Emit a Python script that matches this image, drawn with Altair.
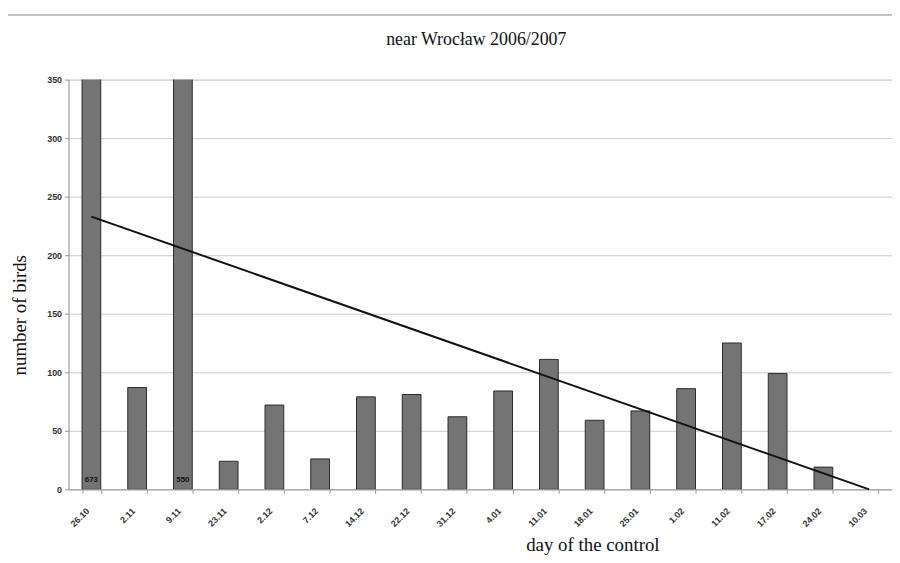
import altair as alt
import pandas as pd

dates = ["26.10", "2.11", "9.11", "23.11", "2.12", "7.12", "14.12", "22.12", "31.12",
         "4.01", "11.01", "18.01", "25.01", "1.02", "11.02", "17.02", "24.02", "10.03"]
birds = [673, 87, 550, 24, 72, 26, 79, 81, 62, 84, 111, 59, 67, 86, 125, 99, 19, 0]
trend_dates = ["26.10", "10.03"]
trend_values = [233, 0]
y_ticks = [0, 50, 100, 150, 200, 250, 300, 350]

df = pd.DataFrame({"date": dates, "birds": birds})
df["label"] = df["birds"].astype(str)
trend = pd.DataFrame({"date": trend_dates, "birds": trend_values})
frame = pd.DataFrame({"k": [0]})

xscale = alt.Scale(domain=dates, paddingInner=0.59, paddingOuter=0.295)
yscale = alt.Scale(domain=[0, 350], nice=False)

xaxis = alt.Axis(
    title="day of the control", titleFont="Liberation Serif", titleFontSize=19,
    titleFontWeight="normal", titleColor="#111", titleX=528, titleY=56,
    titleBaseline="middle", titleAlign="center",
    labelAngle=-45, labelAlign="right", labelBaseline="middle",
    labelFont="Liberation Sans", labelFontWeight="bold", labelFontSize=9,
    labelColor="#333", labelPadding=16, labelOffset=-4,
    tickBand="extent", ticks=True, tickSize=4, tickColor="#999",
    domainColor="#999", grid=False,
)
yaxis = alt.Axis(
    title="number of birds", titleFont="Liberation Serif", titleFontSize=19,
    titleFontWeight="normal", titleColor="#111", titleX=-49, titleY=237,
    titleBaseline="middle", titleAlign="center",
    values=y_ticks, labelFont="Liberation Sans", labelFontWeight="bold",
    labelFontSize=9, labelColor="#333", labelPadding=3,
    tickSize=4, tickColor="#999", domainColor="#999",
    grid=True, gridColor="#cccccc",
)

base = alt.Chart(df)
bars = base.transform_filter("datum.birds > 0").mark_bar(
    clip=True, color="#747474", stroke="#2a2a2a", strokeWidth=1
).encode(
    x=alt.X("date:N", scale=xscale, sort=dates, axis=xaxis),
    y=alt.Y("birds:Q", scale=yscale, axis=yaxis),
)
labels = base.transform_filter("datum.birds > 350").mark_text(
    font="Liberation Sans", fontWeight="bold", fontSize=8, color="#111",
    baseline="bottom", dy=-5
).encode(
    x=alt.X("date:N", scale=xscale, sort=dates),
    y=alt.datum(0),
    text="label:N",
)
line = alt.Chart(trend).mark_line(color="#111", strokeWidth=2).encode(
    x=alt.X("date:N", scale=xscale, sort=dates),
    y=alt.Y("birds:Q", scale=yscale),
)
border = alt.Chart(frame).mark_rule(color="#c4c4c4", strokeWidth=2).encode(
    x=alt.value(-61), x2=alt.value(830), y=alt.value(-65)
)

chart = alt.layer(border, bars, labels, line).properties(
    width=830, height=413,
    title=alt.TitleParams("near Wrocław 2006/2007", font="Liberation Serif",
                          fontSize=18, fontWeight="normal", color="#111",
                          anchor="middle", baseline="middle", dx=-4, offset=-44),
    autosize=alt.AutoSizeParams(type="none"),
    padding={"left": 61, "top": 70, "right": 0, "bottom": 64},
).configure_view(stroke=None).configure(background="white")

chart.save("out.html", embed_options={"renderer": "svg", "actions": False})
